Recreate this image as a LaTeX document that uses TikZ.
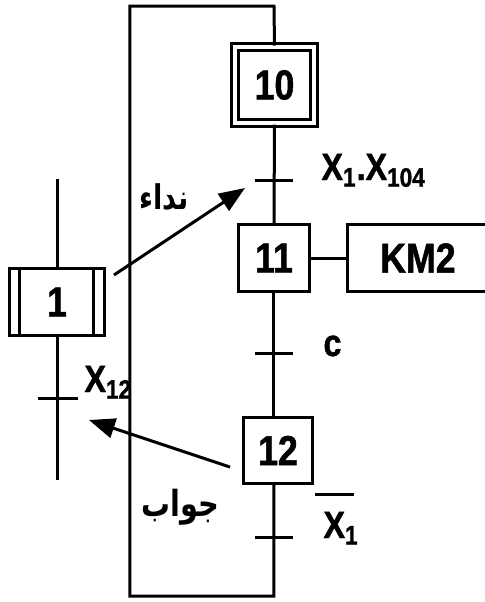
\documentclass[tikz,border=0pt]{standalone}
\usepackage{fontspec}
\setmainfont{Liberation Sans}[FakeStretch=0.85, BoldFeatures={FakeBold=1.2}]
\newfontfamily\arabicfont[Script=Arabic, FakeStretch=0.8]{DejaVu Sans}
\TeXXeTstate=1
\usetikzlibrary{positioning,calc,arrows.meta}

\begin{document}
\begin{tikzpicture}[x=0.5pt, y=-0.5pt, line width=1.5pt,
  stepbox/.style={draw, minimum width=35.5pt, minimum height=33.5pt, inner sep=0pt,
    font=\fontsize{21}{21}\selectfont\bfseries},
  initbox/.style={stepbox, double, double distance=2pt, minimum width=39.5pt, minimum height=38pt},
  actbox/.style={stepbox, minimum width=70.5pt},
  cond/.style={font=\fontsize{19}{19}\selectfont\bfseries, inner sep=0pt},
  msg/.style={font=\arabicfont\fontsize{17}{17}\selectfont\bfseries, inner sep=0pt},
  arr/.style={-{Triangle[length=13pt,width=10pt]}}
]
  \useasboundingbox (0,0) rectangle (485,602);

  % main sequence: steps 10, 11, 12 and action
  \node[initbox] (s10) at (274.5,85) {10};
  \node[stepbox] (s11) at (274,258) {11};
  \node[stepbox, minimum width=34.5pt, minimum height=33pt] (s12) at (278,450.5) {12};
  \node[actbox, right=17.5pt of s11] (a11) {KM2};
  \draw (s11) -- (a11);

  \coordinate (t1) at (274,180);
  \coordinate (t2) at (274,353);
  \coordinate (t3) at (274,537);
  \coordinate (lb) at (274,596);
  \coordinate (lbl) at (130,596);
  \coordinate (ltl) at (130,6);
  \coordinate (ltr) at (274,6);

  \draw (s10.south) -- (s11.north);
  \draw (s11.south) -- (s11.south |- s12.north);
  \draw (s11.south |- s12.south) -- (lb) -- (lbl) -- (ltl) -- (ltr) -- (s10.north);
  \foreach \t in {t1,t2,t3} \draw (\t) ++(-19,0) -- ++(38,0);

  \node[cond, anchor=base west] (c1) at (320,180) {X\textsubscript{1}.X\textsubscript{104}};
  \node[cond, anchor=base west] (c2) at (322,356) {c};
  \node[cond, anchor=base west] (c3) at (322,538)
    {\rlap{\hspace{-4.5pt}\rule[20.8pt]{20pt}{1.5pt}}X\textsubscript{1}};

  % side sequence: step 1
  \node[stepbox, minimum width=47.5pt] (s1) at (57,302) {1};
  \draw ($(s1.north west)+(6pt,0)$) -- ($(s1.south west)+(6pt,0)$);
  \draw ($(s1.north east)+(-6pt,0)$) -- ($(s1.south east)+(-6pt,0)$);
  \coordinate (l0) at (58,179);
  \coordinate (l1) at (58,480);
  \coordinate (t4) at (58,398);
  \draw (l0) -- (l0 |- s1.north);
  \draw (l0 |- s1.south) -- (l1);
  \draw (t4) ++(-20,0) -- ++(40,0);
  \node[cond, anchor=base west] (c4) at (83,392) {X\textsubscript{12}};

  % messages between the two sequences
  \coordinate (p1) at (114,275);
  \coordinate (q1) at (245,188);
  \coordinate (p2) at (230,467);
  \coordinate (q2) at (89,420);
  \draw[arr] (p1) -- (q1);
  \draw[arr] (p2) -- (q2);
  \node[msg] (m1) at (164,197) {\beginR نداء\endR};
  \node[msg, font=\arabicfont\fontsize{18}{18}\selectfont\bfseries] (m2) at (180,507) {\beginR جواب\endR};
\end{tikzpicture}
\end{document}
